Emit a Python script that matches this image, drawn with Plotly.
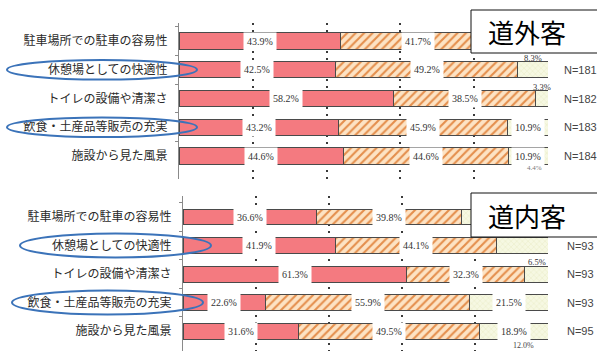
import plotly.graph_objects as go

W, H = 597, 351

categories = ["駐車場所での駐車の容易性", "休憩場としての快適性", "トイレの設備や清潔さ",
              "飲食・土産品等販売の充実", "施設から見た風景"]

# 道外客 (top panel)
out_a = [43.9, 42.5, 58.2, 43.2, 44.6]
out_b = [41.7, 49.2, 38.5, 45.9, 44.6]
out_c = [14.4, 8.3, 3.3, 10.9, 10.9]
out_n = ["", "N=181", "N=182", "N=183", "N=184"]

# 道内客 (bottom panel)
in_a = [36.6, 41.9, 61.3, 22.6, 31.6]
in_b = [39.8, 44.1, 32.3, 55.9, 49.5]
in_c = [23.6, 14.0, 6.5, 21.5, 18.9]
in_n = ["", "N=93", "N=93", "N=93", "N=95"]

highlighted = [1, 3]
panel_titles = ["道外客", "道内客"]

RED = "#f47a80"
EDGE = "#4a4a4a"
FONT_JP = "Noto Sans CJK JP"
FONT_NUM = "Liberation Sans Narrow"


def px_x(p):
    return p / W


def px_y(p):
    return 1 - p / H


fig = go.Figure()

panels = [
    dict(a=out_a, b=out_b, c=out_c, n=out_n, xa="x", ya="y", hidden_c=[0]),
    dict(a=in_a, b=in_b, c=in_c, n=in_n, xa="x2", ya="y2", hidden_c=[0, 1]),
]

annotations = []
shapes = []
C = dict(xanchor="center", yanchor="middle", showarrow=False)

for k, p in enumerate(panels):
    common = dict(y=categories, orientation="h", xaxis=p["xa"], yaxis=p["ya"],
                  width=0.56, showlegend=False, hoverinfo="skip")
    fig.add_trace(go.Bar(x=p["a"], marker=dict(color=RED, line=dict(color=EDGE, width=1)), **common))
    fig.add_trace(go.Bar(x=p["b"], marker=dict(color="#fde3c4", line=dict(color=EDGE, width=1),
                                               pattern=dict(shape="/", fgcolor="#e48e4c", bgcolor="#fde3c4",
                                                            size=6, solidity=0.35, fillmode="replace")), **common))
    fig.add_trace(go.Bar(x=p["c"], marker=dict(color="#f4f6dc", line=dict(color=EDGE, width=1),
                                               pattern=dict(shape="x", fgcolor="#dfe4b4", bgcolor="#f6f8e2",
                                                            size=4, solidity=0.15, fillmode="replace")), **common))

    for i, cat in enumerate(categories):
        a, b, c = p["a"][i], p["b"][i], p["c"][i]
        for start, val in [(0, a), (a, b)]:
            annotations.append(dict(x=start + val / 2, y=cat, xref=p["xa"], yref=p["ya"],
                                    text=f"{val:.1f}%", bgcolor="white", borderpad=3,
                                    font=dict(family=FONT_NUM, size=10, color="#333"), **C))
        if i not in p["hidden_c"]:
            mid = a + b + c / 2
            if c < 10:
                annotations.append(dict(x=mid, y=cat, xref=p["xa"], yref=p["ya"], yshift=12,
                                        text=f"{c:.1f}%",
                                        font=dict(family=FONT_NUM, size=8.5, color="#333"), **C))
            else:
                annotations.append(dict(x=mid, y=cat, xref=p["xa"], yref=p["ya"],
                                        text=f"{c:.1f}%", bgcolor="white", borderpad=3,
                                        font=dict(family=FONT_NUM, size=10, color="#333"), **C))
        if p["n"][i]:
            annotations.append(dict(x=px_x(580), y=cat, xref="paper", yref=p["ya"],
                                    text=p["n"][i],
                                    font=dict(family="Liberation Sans", size=11, color="#444"), **C))

    for i in highlighted:
        if k == 0:
            shapes.append(dict(type="circle", xref="paper", yref=p["ya"],
                               x0=px_x(7), x1=px_x(197), y0=i - 0.34, y1=i + 0.34,
                               line=dict(color="#3b73b9", width=2), layer="above"))
        else:
            shapes.append(dict(type="circle", xref="paper", yref=p["ya"],
                               x0=px_x(20 if i == 1 else 12), x1=px_x(211 if i == 1 else 203),
                               y0=i - 0.42, y1=i + 0.42,
                               line=dict(color="#3b73b9", width=2), layer="above"))

# panel title boxes
for (top, bot), title in zip([(10, 53), (193, 237)], panel_titles):
    shapes.append(dict(type="rect", xref="paper", yref="paper",
                       x0=px_x(471), x1=px_x(600), y0=px_y(bot), y1=px_y(top),
                       line=dict(color="#111", width=1), fillcolor="white", layer="above"))
    annotations.append(dict(x=px_x(486), y=px_y((top + bot) / 2), xref="paper", yref="paper",
                            xanchor="left", yanchor="middle", text=title, showarrow=False,
                            font=dict(family=FONT_JP, size=26, color="black")))

# fragments of cut-off rows
annotations.append(dict(x=px_x(534), y=px_y(168), xref="paper", yref="paper", text="4.4%",
                        font=dict(family=FONT_NUM, size=7, color="#777"), **C))
annotations.append(dict(x=px_x(523), y=px_y(345), xref="paper", yref="paper", text="12.0%",
                        font=dict(family=FONT_NUM, size=8, color="#444"), **C))

xcommon = dict(range=[0, 100], tickvals=[20, 40, 60, 80, 100], showticklabels=False,
               showgrid=True, gridcolor="#3a3a3a", gridwidth=2, griddash="2px,5px",
               zeroline=False, showline=False, ticks="", fixedrange=True)
ycommon = dict(type="category", categoryarray=categories, showline=True, linecolor="#8a8a8a",
               linewidth=1, ticks="outside", tickson="boundaries", ticklen=3, tickcolor="#8a8a8a",
               showgrid=False, ticklabelstandoff=8, automargin=False,
               tickfont=dict(family=FONT_JP, size=12, color="#2a2a2a"))

fig.update_layout(
    width=W, height=H, margin=dict(l=0, r=0, t=0, b=0),
    paper_bgcolor="white", plot_bgcolor="white", barmode="stack", bargap=0.44,
    xaxis=dict(domain=[px_x(179), px_x(548)], anchor="y", **xcommon),
    yaxis=dict(domain=[px_y(179), px_y(23)], anchor="x", range=[4.8, -0.626], **ycommon),
    xaxis2=dict(domain=[px_x(183), px_x(548)], anchor="y2", **xcommon),
    yaxis2=dict(domain=[0, px_y(196)], anchor="x2", range=[4.70, -0.737], **ycommon),
    annotations=annotations, shapes=shapes,
)

fig.write_html("out.html")
